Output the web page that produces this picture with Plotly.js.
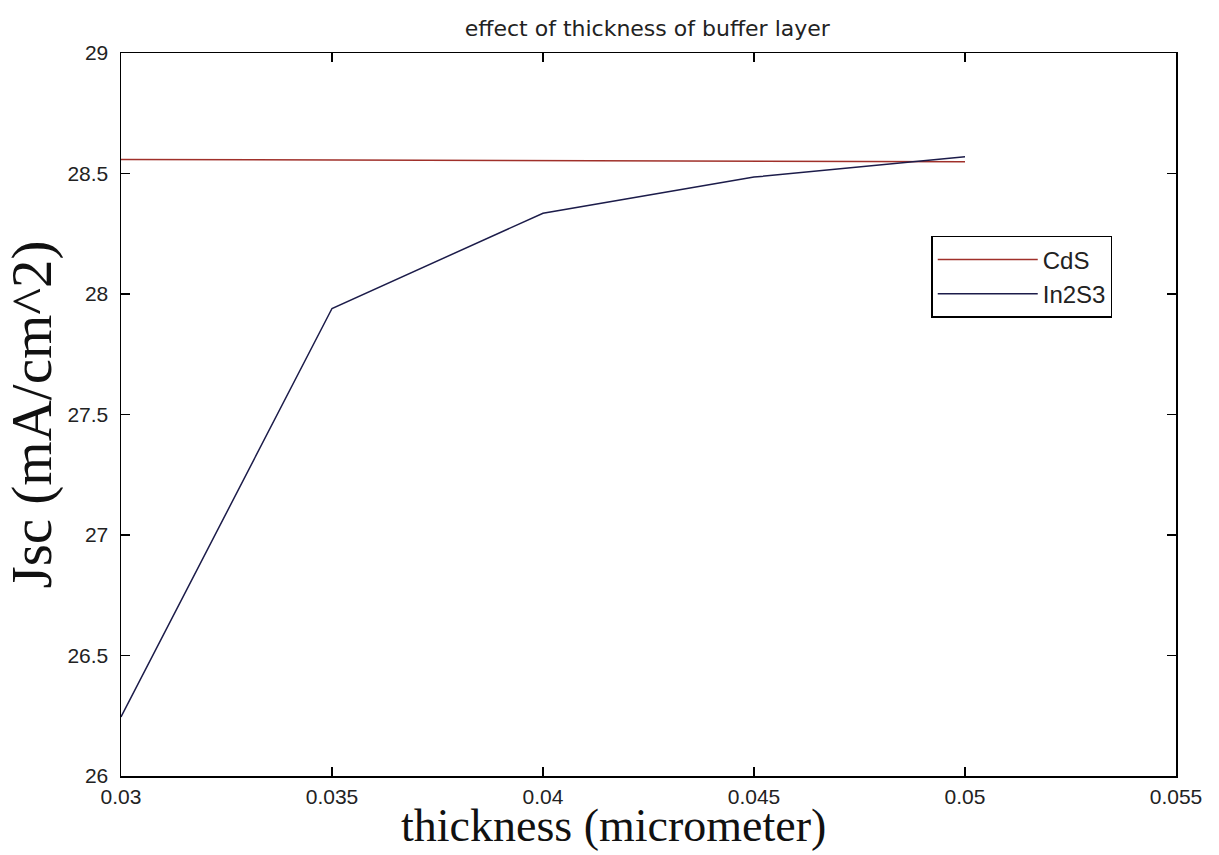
<!DOCTYPE html>
<html><head><meta charset="utf-8">
<script src="https://cdn.plot.ly/plotly-3.0.1.min.js"></script>
<style>html,body{margin:0;padding:0;background:#fff}#chart{width:1219px;height:855px}</style>
</head><body><div id="chart"></div>
<script>
const thickness = [0.03, 0.035, 0.04, 0.045, 0.05];
const jscCdS = [28.558, 28.556, 28.553, 28.551, 28.549];
const jscIn2S3 = [26.245, 27.94, 28.335, 28.485, 28.57];
const xTicks = [0.03, 0.035, 0.04, 0.045, 0.05, 0.055];
const xTickText = ['0.03', '0.035', '0.04', '0.045', '0.05', '0.055'];
const yTicks = [26, 26.5, 27, 27.5, 28, 28.5, 29];
const yTickText = ['26', '26.5', '27', '27.5', '28', '28.5', '29'];
const xTitle = 'thickness (micrometer)';
const yTitle = 'Jsc (mA/cm^2)';
const chartTitle = 'effect of thickness of buffer layer';

const traces = [
  {x: thickness, y: jscCdS, name: 'CdS', mode: 'lines', line: {color: '#a0302a', width: 1.5}},
  {x: thickness, y: jscIn2S3, name: 'In2S3', mode: 'lines', line: {color: '#1c1c4a', width: 1.5}}
];
const axisCommon = {showgrid: false, zeroline: false, showline: true, linecolor: '#000', linewidth: 1.5,
  mirror: 'ticks', ticks: 'inside', ticklen: 9, tickcolor: '#000', tickwidth: 1.3, automargin: false,
  tickfont: {family: 'Liberation Sans, Arial, sans-serif', size: 21, color: '#222'}};
const layout = {
  width: 1219, height: 855,
  margin: {l: 121, r: 43, t: 53, b: 79},
  paper_bgcolor: '#fff', plot_bgcolor: '#fff',
  title: {text: chartTitle, x: 0.531, xanchor: 'center', y: 0.967, yanchor: 'middle',
    font: {family: 'DejaVu Sans, sans-serif', size: 22, color: '#222'}},
  xaxis: Object.assign({}, axisCommon, {range: [0.03, 0.055], tickvals: xTicks, ticktext: xTickText,
    ticklabelstandoff: 1}),
  yaxis: Object.assign({}, axisCommon, {range: [26, 29], tickvals: yTicks, ticktext: yTickText,
    ticklabelstandoff: 7,
    title: {text: yTitle, standoff: 12, font: {family: 'Liberation Serif, Times New Roman, serif', size: 57, color: '#111'}}}),
  annotations: [{text: xTitle, xref: 'paper', yref: 'paper', x: 0.467, y: -0.069, xanchor: 'center', yanchor: 'middle',
    showarrow: false, font: {family: 'Liberation Serif, Times New Roman, serif', size: 46, color: '#111'}}],
  showlegend: true,
  legend: {x: 0.768, y: 0.747, xanchor: 'left', yanchor: 'top', bordercolor: '#000', borderwidth: 1.5,
    bgcolor: '#fff', font: {family: 'Liberation Sans, Arial, sans-serif', size: 24, color: '#222'},
    itemwidth: 100, tracegroupgap: 0}
};
Plotly.newPlot('chart', traces, layout, {displayModeBar: false, staticPlot: true});
</script></body></html>
